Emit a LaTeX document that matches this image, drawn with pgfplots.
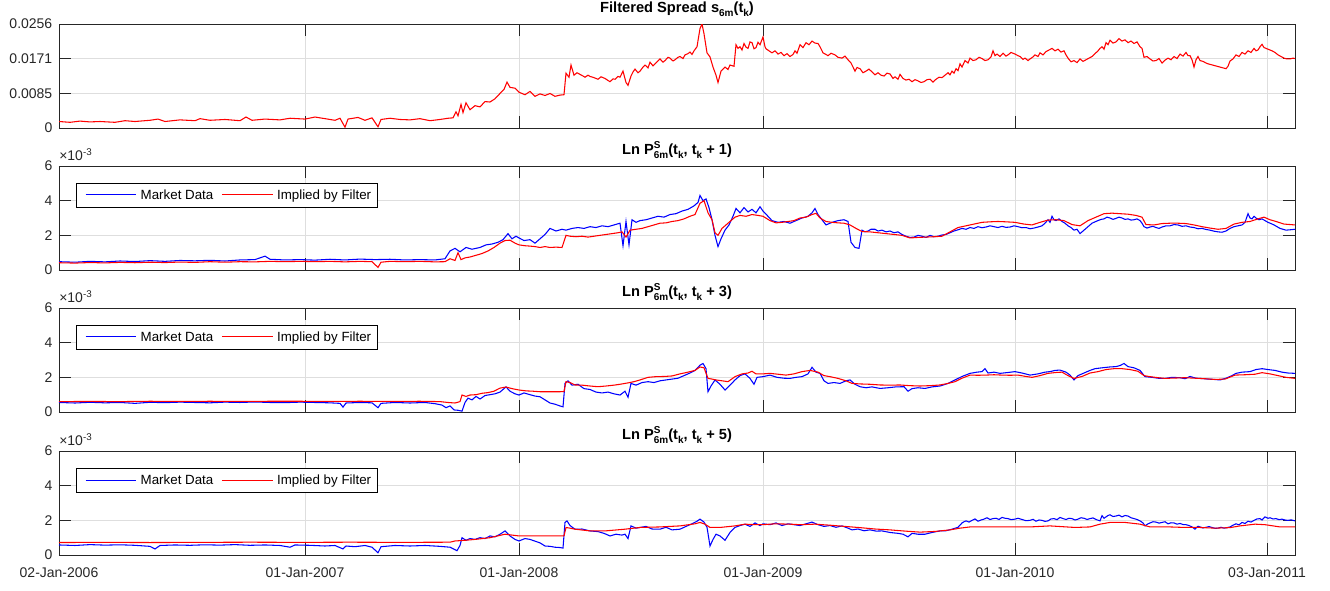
\documentclass[border=0pt]{standalone}
\usepackage{fontspec}
\setmainfont{Liberation Sans}
\usepackage{pgfplots}
\pgfplotsset{compat=1.18}
\definecolor{axgray}{gray}{0.15}
\definecolor{gridgray}{gray}{0.87}
\definecolor{dummyc}{rgb}{0.5,0.9,0.3}
\newcommand{\smallsz}{\fontsize{7.5}{8}\selectfont}
\newcommand{\lo}[1]{\raisebox{-0.55ex}{\smallsz #1}}
\newcommand{\hi}[1]{\raisebox{0.8ex}{\smallsz #1}}
\newcommand{\lnp}[1]{Ln P\rlap{\hi{S}}\lo{6m}(t\lo{k}, t\lo{k} + #1)}
\newcommand{\leglineR}[1]{\path (-3.5pt,0pt) (39.5pt,0pt);%
  \node[inner sep=0pt, outer sep=0pt, anchor=west] at (0pt,0pt) {\textcolor{dummyc}{\textcolor{#1}{\rule[-0.4pt]{38pt}{0.8pt}}}};}
\makeatletter
\newcommand{\leglineP}[3]{\path (-3.5pt,0pt) (39.5pt,0pt);%
  \begin{pgfscope}\pgfsetlinewidth{0.8pt}\pgfpathmoveto{\pgfpointorigin}\pgfpathlineto{\pgfpoint{38pt}{0pt}}%
  \pgfsys@color@rgb@stroke{#1}{#2}{#3}\pgfusepath{stroke}\end{pgfscope}}
\makeatother
\pgfplotsset{
  bleg/.style={legend image code/.code={\leglineR{blue}}},
  rleg/.style={legend image code/.code={\leglineR{red}}},
  blegP/.style={legend image code/.code={\leglineP{0}{0}{1}}},
  rlegP/.style={legend image code/.code={\leglineP{1}{0}{0}}},
  mstyle/.style={
    scale only axis, width=927pt, height=78pt,
    anchor=north west,
    clip mode=individual,
    xmin=59, xmax=1295,
    xtick={59,305,519,763,1015,1267},
    xticklabels={},
    axis line style={axgray, line width=0.5pt},
    tick style={axgray, line width=0.5pt},
    major tick length=9pt,
    tick align=inside,
    xtick pos=both, ytick pos=both,
    xticklabel pos=lower, yticklabel pos=left,
    grid=major, major grid style={gridgray, line width=0.5pt},
    tick label style={font=\fontsize{10.5}{12}\selectfont, text=axgray},
    yticklabel style={xshift=-1.5pt},
    xticklabel style={yshift=-6pt},
    title style={font=\bfseries\fontsize{11}{12}\selectfont, text=black, anchor=base, yshift=2.5pt},
    every axis plot/.append style={line width=0.8pt},
  },
  lnstyle/.style={
    mstyle,
    ymin=0, ymax=6, ytick={0,2,4,6}, yticklabels={0,2,4,6},
    legend columns=2,
    legend style={at={(0.01375,0.8365)}, anchor=north west, line width=0.5pt,
      fill=white, font=\fontsize{10}{11}\selectfont, inner xsep=3pt, inner ysep=2.5pt,
      /tikz/every even column/.append style={column sep=1pt},
      nodes={inner xsep=1.5pt}},
  },
}
\newcommand{\sci}{\node[anchor=base west, inner sep=0pt, font=\fontsize{10.5}{12}\selectfont, text=axgray] at (rel axis cs:0,1) [yshift=4.2pt] {×10\textsuperscript{-3}};}
\begin{document}
\begin{tikzpicture}
\path[use as bounding box] (-44.25pt,18pt) rectangle (953.25pt,-424.5pt);
% ---------------- Panel 1 ----------------
\begin{axis}[mstyle, at={(0pt,0pt)},
  ymin=0, ymax=0.0256, ytick={0,0.0085,0.0171,0.0256},
  yticklabels={0,0.0085,0.0171,0.0256}, scaled y ticks=false,
  title={Filtered Spread s\lo{6m}(t\lo{k})}]
\addplot[red] coordinates {
(59,0.0016) (70,0.0014) (80,0.0017) (90,0.0015) (100,0.0016) (115,0.0014) (125,0.0018) (135,0.0016)
(150,0.0019) (158,0.0022) (165,0.0016) (180,0.0020) (195,0.0018) (200,0.0023) (210,0.0019) (225,0.0021)
(240,0.0018) (246,0.0027) (252,0.0019) (265,0.0022) (280,0.0020) (290,0.0024) (305,0.0022) (315,0.0027)
(325,0.0023) (335,0.0019) (340,0.0024) (345,0.0002) (348,0.0022) (358,0.0026) (365,0.0019) (372,0.0025)
(378,0.0003) (381,0.0021) (390,0.0024) (400,0.0021) (410,0.0020) (420,0.0023) (430,0.0018) (440,0.0021)
(448,0.0024) (453,0.0025) (456,0.0040) (458,0.0030) (461,0.0058) (463,0.0038) (466,0.0062) (470,0.0045)
(475,0.0055) (480,0.0052) (485,0.0065) (490,0.0064) (495,0.0072) (500,0.0085) (504,0.0095) (507,0.0113)
(510,0.0100) (515,0.0098) (519,0.0088) (525,0.0082) (530,0.0090) (535,0.0078) (540,0.0084) (545,0.0080)
(550,0.0085) (555,0.0078) (560,0.0081) (564,0.0082) (566,0.0135) (569,0.0125) (571,0.0155)
(574,0.0130) (577,0.0136) (580,0.0132) (583,0.0128) (585,0.0125) (588,0.0130) (590,0.0127) (594,0.0124)
(598,0.0120) (601,0.0126) (605,0.0122) (608,0.0117) (610,0.0114) (613,0.0121) (615,0.0120) (618,0.0127)
(620,0.0125) (623,0.0140) (626,0.0112) (628,0.0105) (631,0.0128) (633,0.0138) (635,0.0145) (638,0.0136)
(640,0.0140) (643,0.0150) (645,0.0155) (648,0.0148) (650,0.0162) (653,0.0153) (655,0.0158) (658,0.0165)
(660,0.0170) (663,0.0162) (665,0.0166) (668,0.0174) (670,0.0172) (673,0.0165) (675,0.0168) (678,0.0174)
(680,0.0176) (683,0.0171) (685,0.0180) (688,0.0183) (690,0.0187) (692,0.0181) (694,0.0190) (697,0.0200)
(700,0.0245) (702,0.0256) (704,0.0232) (707,0.0185) (710,0.0175) (713,0.0150)
(716,0.0130) (718,0.0112) (721,0.0140) (725,0.0150) (728,0.0144) (730,0.0155) (734,0.0152)
(736,0.0205) (738,0.0196) (740,0.0200) (742,0.0192) (744,0.0208) (746,0.0199) (748,0.0196) (750,0.0212)
(752,0.0210) (754,0.0195) (756,0.0198) (758,0.0211) (760,0.0205) (763,0.0224) (765,0.0200) (766,0.0195)
(769,0.0190) (772,0.0185) (775,0.0190) (778,0.0182) (781,0.0186) (784,0.0178) (787,0.0183) (790,0.0176)
(793,0.0181) (795,0.0190) (797,0.0184) (800,0.0205) (803,0.0198) (806,0.0210) (809,0.0205) (812,0.0214)
(815,0.0209) (818,0.0208) (820,0.0200) (823,0.0185) (826,0.0181) (828,0.0178) (831,0.0184) (835,0.0180)
(838,0.0174) (842,0.0172) (845,0.0177) (848,0.0168) (851,0.0160) (855,0.0140) (857,0.0149) (860,0.0146)
(863,0.0136) (866,0.0140) (869,0.0145) (872,0.0138) (875,0.0131) (878,0.0136) (881,0.0130) (884,0.0128)
(887,0.0135) (890,0.0133) (893,0.0122) (895,0.0126) (898,0.0120) (900,0.0132) (903,0.0122) (906,0.0118)
(909,0.0120) (912,0.0114) (915,0.0119) (918,0.0116) (921,0.0112) (924,0.0114) (927,0.0119) (930,0.0120)
(933,0.0113) (936,0.0120) (939,0.0125) (942,0.0124) (945,0.0130) (948,0.0136) (950,0.0131) (952,0.0140)
(954,0.0135) (956,0.0146) (958,0.0141) (960,0.0158) (962,0.0150) (965,0.0166) (968,0.0160) (970,0.0172)
(973,0.0166) (976,0.0168) (979,0.0174) (982,0.0171) (985,0.0166) (988,0.0168) (991,0.0175) (993,0.0190)
(995,0.0178) (997,0.0182) (1000,0.0176) (1003,0.0184) (1006,0.0177) (1008,0.0180) (1011,0.0186) (1015,0.0182)
(1018,0.0178) (1020,0.0176) (1023,0.0169) (1025,0.0172) (1028,0.0166) (1030,0.0170) (1033,0.0175) (1035,0.0180)
(1038,0.0176) (1040,0.0185) (1043,0.0180) (1046,0.0188) (1049,0.0192) (1052,0.0196) (1055,0.0190) (1058,0.0194)
(1061,0.0187) (1064,0.0190) (1066,0.0180) (1068,0.0172) (1071,0.0163) (1074,0.0166) (1077,0.0161) (1080,0.0170)
(1083,0.0164) (1086,0.0168) (1089,0.0172) (1092,0.0176) (1095,0.0183) (1098,0.0190) (1100,0.0196) (1102,0.0200)
(1104,0.0194) (1106,0.0210) (1108,0.0205) (1110,0.0216) (1113,0.0209) (1116,0.0212) (1119,0.0220) (1122,0.0214)
(1125,0.0217) (1128,0.0210) (1131,0.0214) (1134,0.0208) (1137,0.0212) (1140,0.0200) (1142,0.0196) (1144,0.0174)
(1147,0.0176) (1150,0.0170) (1153,0.0165) (1156,0.0166) (1159,0.0171) (1162,0.0160) (1165,0.0167) (1168,0.0172)
(1171,0.0168) (1174,0.0176) (1177,0.0171) (1180,0.0182) (1183,0.0177) (1186,0.0186) (1188,0.0178) (1190,0.0178)
(1192,0.0168) (1194,0.0150) (1196,0.0168) (1198,0.0176) (1200,0.0166) (1203,0.0164) (1206,0.0160) (1208,0.0158)
(1211,0.0156) (1214,0.0154) (1217,0.0152) (1220,0.0150) (1223,0.0148) (1226,0.0146) (1228,0.0152) (1230,0.0165)
(1233,0.0170) (1236,0.0180) (1239,0.0176) (1242,0.0186) (1245,0.0182) (1248,0.0190) (1251,0.0186) (1254,0.0196)
(1256,0.0190) (1258,0.0192) (1260,0.0200) (1262,0.0206) (1264,0.0198) (1266,0.0196) (1269,0.0193) (1272,0.0190)
(1275,0.0186) (1278,0.0180) (1281,0.0176) (1284,0.0172) (1287,0.0170) (1290,0.0170) (1293,0.0172) (1295,0.0171)
};
\end{axis}
% ---------------- Panel 2 ----------------
\begin{axis}[lnstyle, at={(0pt,-106.5pt)}, title={\lnp{1}}]
\addplot[blue, bleg] coordinates {
(59,0.48) (75,0.45) (90,0.50) (105,0.47) (120,0.52) (135,0.49) (150,0.54) (165,0.50) (180,0.55) (195,0.53)
(210,0.56) (225,0.52) (240,0.58) (255,0.60) (265,0.80) (270,0.62) (285,0.58) (300,0.60) (315,0.57) (330,0.62)
(345,0.58) (360,0.63) (375,0.60) (390,0.62) (405,0.58) (420,0.60) (435,0.58) (445,0.65) (450,1.10) (455,1.25)
(460,1.05) (466,1.30) (472,1.20) (480,1.30) (486,1.45) (492,1.50) (498,1.60) (503,1.75) (508,2.10) (512,1.80)
(516,1.95) (519,1.85) (524,1.70) (530,1.75) (535,1.55) (540,1.80) (545,2.05) (550,2.40) (556,2.25) (562,2.35)
(566,2.30) (572,2.40) (578,2.45) (584,2.40) (590,2.50) (596,2.45) (602,2.55) (608,2.50) (614,2.60) (620,2.70)
(623,1.40) (626,2.80) (629,1.45) (632,2.90) (636,2.75) (640,2.85) (646,2.90) (652,3.00) (658,3.10) (664,3.05)
(670,3.20) (676,3.25) (682,3.40) (688,3.50) (694,3.70) (698,3.90) (700,4.30) (703,4.00) (706,4.10) (709,3.60)
(712,2.90) (715,2.00) (718,1.35) (721,1.80) (725,2.30) (729,2.60) (733,3.10) (736,3.55) (740,3.30) (744,3.60)
(748,3.35) (752,3.50) (756,3.30) (760,3.65) (763,3.40) (768,3.10) (772,2.85) (778,2.75) (784,2.80) (790,2.70)
(796,2.85) (802,3.00) (808,3.10) (812,3.30) (815,3.55) (818,3.20) (822,2.90) (826,2.60) (832,2.75) (838,2.85)
(844,2.90) (848,2.80) (851,1.60) (855,1.30) (859,1.25)
(862,2.30) (865,2.20) (868,2.25) (871,2.35) (875,2.35) (878,2.25) (882,2.30) (886,2.20) (890,2.25) (894,2.15)
(898,2.20) (902,2.05) (906,1.95) (910,1.88) (914,1.90) (918,2.00) (922,1.95) (926,1.88) (930,2.00) (934,1.92)
(938,1.95) (942,2.02) (946,2.05) (950,2.15) (954,2.25) (958,2.32) (962,2.40) (966,2.35) (970,2.45) (974,2.40)
(978,2.50) (982,2.44) (986,2.48) (990,2.55) (994,2.50) (998,2.45) (1002,2.52) (1006,2.46) (1010,2.48) (1014,2.55)
(1018,2.50) (1022,2.44) (1026,2.45) (1030,2.38) (1034,2.42) (1038,2.48) (1042,2.55) (1045,2.70) (1048,2.90) (1050,2.75)
(1052,3.10) (1054,2.90) (1056,2.85) (1059,2.95) (1062,2.80) (1065,2.70) (1068,2.55) (1071,2.45) (1074,2.30) (1077,2.35)
(1080,2.10) (1083,2.25) (1086,2.40) (1089,2.55) (1092,2.70) (1095,2.78) (1098,2.85) (1101,2.92) (1104,2.95) (1107,3.05)
(1110,3.00) (1113,2.92) (1116,2.98) (1119,3.05) (1122,3.00) (1125,2.92) (1128,2.95) (1131,2.88) (1134,2.90) (1137,2.95)
(1140,2.85) (1142,2.70) (1144,2.50) (1147,2.42) (1150,2.48) (1153,2.52) (1156,2.45) (1159,2.40) (1162,2.48) (1166,2.55)
(1170,2.55) (1174,2.62) (1178,2.60) (1182,2.52) (1186,2.55) (1190,2.48) (1194,2.45) (1198,2.38) (1202,2.40) (1206,2.34)
(1210,2.30) (1214,2.24) (1218,2.20) (1222,2.18) (1226,2.25) (1230,2.40) (1234,2.50) (1238,2.55) (1242,2.60) (1245,2.75)
(1248,3.25) (1250,3.00) (1252,2.95) (1254,3.10) (1256,3.00) (1259,2.90) (1262,2.95) (1265,2.85) (1268,2.75) (1271,2.68)
(1274,2.60) (1277,2.50) (1280,2.40) (1283,2.35) (1286,2.30) (1290,2.32) (1295,2.35)
};
\addplot[red, rleg] coordinates {
(59,0.42) (75,0.40) (90,0.43) (105,0.41) (120,0.44) (135,0.42) (150,0.45) (165,0.43) (180,0.46) (195,0.44)
(210,0.48) (225,0.45) (240,0.48) (255,0.47) (270,0.50) (285,0.48) (300,0.50) (315,0.48) (330,0.50) (345,0.47)
(360,0.50) (372,0.48) (378,0.15) (381,0.45) (390,0.50) (405,0.48) (420,0.50) (435,0.47) (445,0.48) (450,0.65)
(455,0.55) (458,1.00) (461,0.60) (465,0.70) (470,0.75) (476,0.85) (482,0.95) (488,1.10) (494,1.30) (500,1.55)
(505,1.70) (510,1.72) (515,1.55) (519,1.45) (525,1.40) (530,1.38) (535,1.35) (540,1.30) (545,1.35) (550,1.30)
(556,1.32) (562,1.30) (566,2.00) (570,1.95) (576,1.92) (582,1.95) (588,1.90) (594,1.95) (600,2.00) (606,2.05)
(612,2.10) (618,2.15) (622,2.20) (626,1.90) (630,2.30) (636,2.35) (642,2.40) (648,2.50) (654,2.60) (660,2.70)
(666,2.72) (672,2.80) (678,2.85) (684,2.95) (690,3.10) (695,3.20) (700,3.85) (704,4.00) (708,3.30) (712,2.90)
(715,2.15) (718,2.00) (722,2.40) (726,2.60) (730,2.80) (735,3.05) (740,3.15) (746,3.10) (752,3.20) (758,3.15)
(763,3.10) (770,2.85) (776,2.72) (782,2.75) (788,2.80) (794,2.85) (800,3.00) (806,3.05) (812,3.20) (816,3.27)
(820,3.00) (826,2.80) (832,2.75) (838,2.72) (844,2.70) (850,2.60) (856,2.40) (862,2.22) (870,2.20) (878,2.15)
(886,2.10) (894,2.05) (902,2.00) (910,1.85) (918,1.88) (926,1.90) (934,1.92) (942,1.95) (950,2.20) (958,2.45)
(966,2.55) (974,2.65) (982,2.75) (990,2.78) (998,2.80) (1006,2.78) (1015,2.75) (1024,2.65) (1032,2.60) (1040,2.75)
(1048,2.88) (1056,2.90) (1064,2.85) (1072,2.62) (1080,2.55) (1088,2.85) (1096,3.05) (1104,3.25) (1112,3.28) (1120,3.25)
(1128,3.22) (1136,3.15) (1142,3.05) (1146,2.62) (1154,2.60) (1162,2.68) (1170,2.70) (1178,2.70) (1186,2.68) (1194,2.60)
(1202,2.50) (1210,2.42) (1218,2.35) (1226,2.40) (1234,2.65) (1242,2.75) (1250,2.80) (1258,2.95) (1264,3.05) (1270,2.90)
(1276,2.80) (1284,2.65) (1295,2.60)
};
\legend{Market Data, Implied by Filter}
\sci
\end{axis}
% ---------------- Panel 3 ----------------
\begin{axis}[lnstyle, at={(0pt,-213pt)}, title={\lnp{3}}]
\addplot[blue, bleg] coordinates {
(59,0.55) (75,0.52) (90,0.56) (105,0.53) (120,0.55) (135,0.50) (150,0.56) (165,0.54) (180,0.57) (195,0.55)
(210,0.53) (225,0.57) (240,0.55) (255,0.58) (270,0.55) (285,0.54) (300,0.57) (315,0.55) (330,0.53) (340,0.50)
(343,0.28) (346,0.52) (360,0.55) (372,0.53) (378,0.25) (381,0.50) (395,0.55) (410,0.52) (425,0.55) (435,0.48)
(442,0.40) (446,0.25) (450,0.35) (454,0.12) (458,0.10) (462,0.05) (465,0.55) (468,0.80) (472,0.70) (476,0.90)
(480,0.75) (485,0.95) (490,1.00) (495,1.05) (500,1.15) (503,1.30) (506,1.45) (510,1.20) (515,1.05) (519,0.98)
(524,1.10) (530,1.00) (535,0.92) (540,0.88) (545,0.70) (550,0.52) (555,0.45) (560,0.35) (563,0.30) (565,1.65)
(568,1.80) (572,1.55) (578,1.60) (584,1.35) (590,1.30) (596,1.15) (602,1.10) (608,1.15) (614,1.05) (620,0.98)
(625,1.20) (628,0.85) (631,1.65) (636,1.55) (642,1.70) (648,1.75) (654,1.70) (660,1.80) (666,1.85) (672,1.90)
(678,1.95) (684,2.10) (690,2.25) (695,2.40) (700,2.70) (703,2.80) (706,2.50) (708,1.17) (711,1.50) (715,1.85)
(720,1.60) (725,1.27) (730,1.55) (735,1.85) (740,2.10) (745,2.20) (750,1.94) (754,1.60) (757,2.00) (763,2.04)
(770,2.13) (777,2.00) (784,1.95) (790,1.94) (796,2.00) (802,2.04) (808,2.20) (812,2.58) (816,2.30) (820,2.23)
(824,1.80) (828,1.65) (834,1.70) (840,1.65) (846,1.80) (850,1.85) (855,1.60) (860,1.46) (866,1.40) (872,1.45)
(880,1.36) (888,1.40) (896,1.45) (904,1.46) (908,1.20) (912,1.35) (918,1.40) (925,1.36) (932,1.45) (940,1.50)
(948,1.65) (955,1.85) (962,2.05) (970,2.23) (977,2.30) (982,2.33) (985,2.50) (988,2.25) (994,2.30) (1000,2.23)
(1008,2.28) (1015,2.33) (1022,2.25) (1030,2.13) (1038,2.20) (1045,2.30) (1050,2.33) (1055,2.40) (1060,2.42) (1066,2.30)
(1070,2.13) (1074,1.85) (1078,2.10) (1084,2.25) (1090,2.40) (1095,2.50) (1102,2.55) (1110,2.60) (1116,2.62) (1120,2.68)
(1124,2.80) (1128,2.62) (1134,2.55) (1140,2.40) (1145,2.04) (1152,2.00) (1158,1.95) (1165,1.94) (1172,2.00) (1180,1.98)
(1185,1.92) (1190,2.05) (1196,1.95) (1200,1.94) (1208,1.90) (1214,1.88) (1220,1.85) (1226,1.95) (1232,2.10) (1236,2.23)
(1242,2.30) (1250,2.33) (1256,2.45) (1262,2.50) (1268,2.45) (1275,2.40) (1282,2.30) (1288,2.25) (1295,2.23)
};
\addplot[red, rleg] coordinates {
(59,0.60) (90,0.61) (120,0.60) (150,0.62) (180,0.61) (210,0.62) (240,0.61) (270,0.62) (300,0.62) (330,0.61)
(360,0.62) (390,0.61) (420,0.62) (440,0.60) (448,0.55) (455,0.52) (460,0.60) (462,0.98) (466,0.90) (470,0.98)
(476,1.00) (482,1.08) (488,1.12) (494,1.20) (500,1.38) (506,1.44) (512,1.35) (519,1.27) (526,1.22) (533,1.20)
(540,1.17) (550,1.17) (560,1.17) (564,1.18) (566,1.75) (570,1.70) (575,1.56) (582,1.55) (590,1.50) (598,1.46)
(606,1.50) (614,1.55) (620,1.60) (628,1.68) (634,1.75) (640,1.85) (648,2.00) (656,2.04) (664,2.05) (672,2.08)
(680,2.20) (688,2.30) (695,2.40) (700,2.60) (704,2.55) (708,1.94) (712,1.90) (716,1.85) (722,1.80) (728,1.75)
(735,2.04) (742,2.20) (748,2.25) (752,2.35) (756,2.20) (763,2.20) (770,2.23) (778,2.18) (786,2.13) (794,2.20)
(802,2.33) (810,2.40) (818,2.30) (824,2.10) (830,2.04) (838,1.94) (846,1.80) (852,1.65) (860,1.62) (870,1.60)
(880,1.56) (890,1.55) (900,1.56) (910,1.52) (920,1.50) (930,1.52) (940,1.56) (948,1.65) (955,1.75) (962,1.95)
(970,2.13) (978,2.12) (986,2.13) (994,2.15) (1002,2.13) (1010,2.12) (1018,2.13) (1026,2.05) (1032,2.00) (1040,2.10)
(1048,2.23) (1056,2.28) (1062,2.30) (1068,2.10) (1074,1.94) (1082,2.05) (1090,2.25) (1098,2.33) (1106,2.45) (1114,2.50)
(1122,2.50) (1130,2.45) (1138,2.35) (1144,2.10) (1150,2.04) (1158,1.98) (1165,1.94) (1175,1.96) (1185,1.98) (1195,1.95)
(1205,1.92) (1215,1.88) (1225,1.90) (1235,2.13) (1245,2.15) (1255,2.18) (1262,2.27) (1270,2.20) (1278,2.10) (1286,2.00)
(1295,1.94)
};
\legend{Market Data, Implied by Filter}
\sci
\end{axis}
% ---------------- Panel 4 ----------------
\begin{axis}[lnstyle, at={(0pt,-320.25pt)}, title={\lnp{5}},
  xticklabels={02-Jan-2006,01-Jan-2007,01-Jan-2008,01-Jan-2009,01-Jan-2010,03-Jan-2011}]
\addplot[blue, blegP] coordinates {
(59,0.58) (75,0.55) (90,0.60) (105,0.57) (120,0.59) (135,0.56) (150,0.50) (155,0.35) (160,0.55) (175,0.58)
(190,0.56) (205,0.59) (220,0.57) (235,0.60) (250,0.56) (265,0.58) (280,0.55) (290,0.45) (295,0.58) (310,0.56)
(325,0.52) (335,0.55) (343,0.35) (346,0.52) (355,0.48) (365,0.55) (372,0.45) (378,0.13) (381,0.48) (395,0.55)
(410,0.52) (425,0.55) (440,0.50) (450,0.45) (457,0.25) (460,0.55) (462,1.00) (466,0.85) (470,0.95) (475,0.90)
(480,1.00) (485,0.95) (490,1.10) (495,1.05) (500,1.20) (505,1.39) (510,1.10) (515,0.90) (519,0.81) (525,0.95)
(530,0.90) (535,0.80) (540,0.70) (545,0.52) (550,0.50) (555,0.45) (560,0.43) (563,0.40) (565,1.88) (567,1.97)
(570,1.70) (575,1.49) (582,1.50) (590,1.39) (598,1.35) (604,1.25) (610,1.10) (616,1.20) (622,1.15) (625,1.20)
(628,0.95) (631,1.68) (636,1.55) (640,1.59) (646,1.65) (652,1.50) (660,1.49) (666,1.60) (672,1.45) (680,1.49)
(686,1.65) (692,1.80) (697,1.95) (700,2.07) (704,1.90) (707,1.60) (710,0.52) (713,0.90) (716,1.20) (720,1.10)
(725,0.85) (730,1.30) (735,1.59) (740,1.70) (745,1.78) (750,1.65) (755,1.85) (760,1.70) (763,1.80) (770,1.75)
(776,1.85) (782,1.70) (788,1.80) (794,1.75) (800,1.70) (806,1.80) (812,1.90) (818,1.75) (824,1.65) (830,1.70)
(836,1.60) (842,1.68) (848,1.55) (852,1.45) (858,1.50) (864,1.40) (870,1.45) (876,1.38) (882,1.39) (890,1.30)
(898,1.25) (903,1.20) (908,1.05) (912,1.25) (918,1.20) (925,1.20) (932,1.30) (940,1.39) (946,1.40) (952,1.49)
(958,1.60) (962,1.85) (964,1.92) (966,1.97) (969,1.90) (972,2.00) (975,2.08) (978,1.95) (981,2.02) (984,2.07)
(987,2.15) (990,2.05) (993,2.10) (996,2.12) (999,2.05) (1002,2.17) (1005,2.12) (1008,2.10) (1011,2.04) (1015,2.07)
(1018,2.12) (1022,2.05) (1026,1.98) (1030,2.00) (1033,2.06) (1036,1.95) (1039,2.02) (1042,2.00) (1045,1.94) (1048,1.97)
(1051,2.08) (1054,2.10) (1057,2.04) (1060,2.17) (1063,2.10) (1066,2.05) (1069,2.12) (1072,2.10) (1075,2.02) (1078,2.07)
(1081,2.15) (1084,2.12) (1087,2.05) (1090,2.10) (1093,2.14) (1096,2.05) (1100,1.97) (1102,2.27) (1104,2.12) (1106,2.20)
(1108,2.28) (1110,2.32) (1113,2.22) (1116,2.25) (1119,2.30) (1122,2.20) (1125,2.28) (1128,2.25) (1131,2.15) (1134,2.10)
(1137,2.05) (1140,1.97) (1143,1.85) (1145,1.68) (1148,1.80) (1150,1.85) (1153,1.92) (1156,1.90) (1159,1.84) (1162,1.88)
(1165,1.92) (1168,1.80) (1171,1.86) (1174,1.85) (1177,1.78) (1180,1.82) (1183,1.76) (1186,1.75) (1189,1.70) (1192,1.62)
(1195,1.49) (1198,1.66) (1200,1.62) (1203,1.56) (1206,1.60) (1209,1.64) (1212,1.59) (1215,1.54) (1218,1.55) (1221,1.60)
(1224,1.55) (1227,1.58) (1230,1.62) (1233,1.72) (1236,1.80) (1239,1.74) (1242,1.88) (1245,1.82) (1248,1.95) (1251,1.90)
(1254,2.00) (1257,2.08) (1260,2.10) (1262,2.02) (1265,2.20) (1268,2.12) (1270,2.15) (1273,2.08) (1276,2.10) (1279,2.04)
(1282,2.07) (1285,2.02) (1288,2.00) (1291,2.03) (1295,1.97)
};
\addplot[red, rlegP] coordinates {
(59,0.72) (100,0.73) (150,0.72) (200,0.73) (250,0.74) (300,0.73) (350,0.74) (400,0.73) (450,0.74) (455,0.81)
(465,0.85) (475,0.90) (490,1.00) (505,1.20) (512,1.15) (519,1.10) (530,1.10) (545,1.10) (560,1.10) (564,1.10)
(566,1.59) (570,1.55) (575,1.49) (590,1.39) (605,1.39) (625,1.49) (640,1.59) (660,1.62) (680,1.68) (695,1.80)
(700,1.88) (705,1.78) (710,1.59) (720,1.59) (735,1.68) (745,1.78) (755,1.75) (763,1.75) (775,1.80) (790,1.78)
(800,1.75) (815,1.78) (830,1.72) (845,1.65) (860,1.58) (875,1.50) (890,1.45) (905,1.38) (920,1.32) (935,1.36)
(950,1.45) (960,1.55) (970,1.62) (990,1.62) (1010,1.62) (1030,1.62) (1050,1.68) (1075,1.59) (1090,1.62) (1100,1.78)
(1110,1.88) (1125,1.88) (1140,1.78) (1150,1.62) (1170,1.62) (1185,1.59) (1200,1.59) (1215,1.55) (1230,1.58) (1240,1.68)
(1255,1.78) (1265,1.75) (1280,1.62) (1295,1.62)
};
\legend{Market Data, Implied by Filter}
\sci
\end{axis}
\end{tikzpicture}
\end{document}
